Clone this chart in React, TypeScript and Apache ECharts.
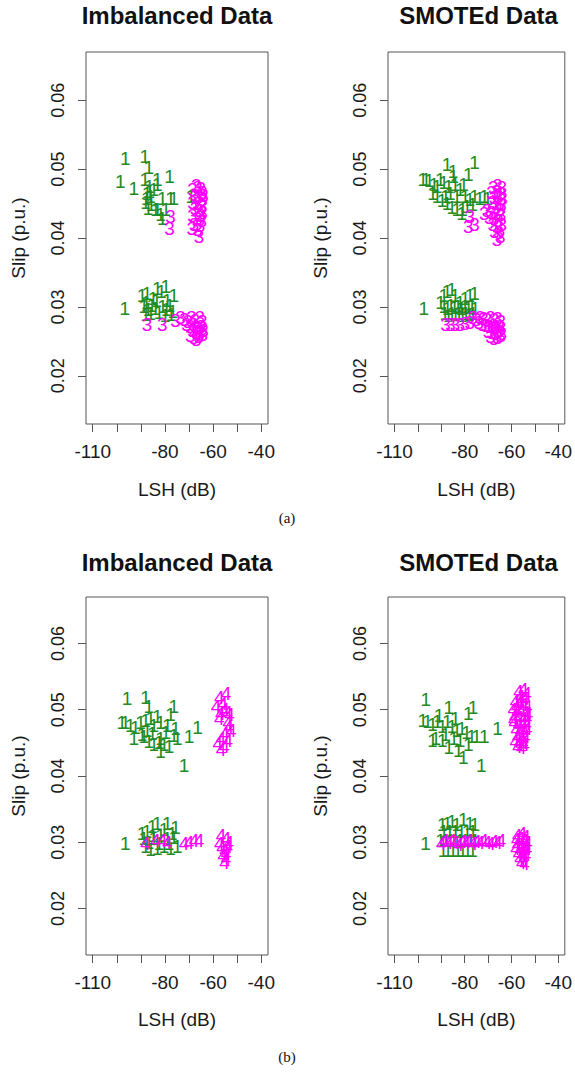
import React, { useEffect, useRef } from "react";
import * as echarts from "echarts";

// ---------- tick labels ----------
const X_TICKS = [-110, -100, -90, -80, -70, -60, -50, -40];
const X_LABELS = [-110, -80, -60, -40];
const Y_TICKS = [0.02, 0.03, 0.04, 0.05, 0.06];
const PANEL_TITLES = ["Imbalanced Data", "SMOTEd Data", "Imbalanced Data", "SMOTEd Data"];
const SUB_LABELS = ["(a)", "(b)"];

// ---------- (a) Imbalanced: class 1 (green) and class 3 (magenta) ----------
const aImbClass1: number[][] = [
  [-96.5, 0.0516], [-88.4, 0.0519], [-86.7, 0.0502], [-98.6, 0.0482], [-93.0, 0.0472],
  [-88.4, 0.0485], [-83.2, 0.0485], [-78.1, 0.0489], [-87.4, 0.0465], [-86.0, 0.046],
  [-88.1, 0.0451], [-84.6, 0.047], [-87.0, 0.0443], [-83.2, 0.0441], [-81.1, 0.0429],
  [-76.3, 0.0458], [-69.3, 0.046], [-79.7, 0.0441], [-86.5, 0.0475], [-85.8, 0.0448],
  [-87.8, 0.0457], [-86.3, 0.0468], [-83.2, 0.0477], [-81.1, 0.0458], [-83.9, 0.0441],
  [-81.8, 0.0434], [-77.7, 0.0458],
  [-96.7, 0.0298], [-89.5, 0.0317], [-87.4, 0.032], [-83.2, 0.0327], [-79.7, 0.0329],
  [-81.5, 0.0322], [-76.3, 0.0317], [-88.8, 0.03], [-87.0, 0.0296], [-85.5, 0.0302],
  [-84.0, 0.0298], [-82.5, 0.0292], [-81.0, 0.03], [-79.5, 0.0296], [-78.0, 0.0302],
  [-76.8, 0.0294], [-88.0, 0.0289], [-86.0, 0.029], [-80.0, 0.0288], [-77.5, 0.0289],
  [-83.5, 0.031], [-79.0, 0.031], [-85.0, 0.0312], [-87.8, 0.0306],
];
const aImbClass3: number[][] = [
  [-77.7, 0.0431], [-78.1, 0.0414], [-65.8, 0.0402], [-68.6, 0.047], [-66.5, 0.0474],
  [-65.1, 0.0472], [-64.4, 0.0466], [-67.2, 0.0462], [-65.8, 0.046], [-64.4, 0.0456],
  [-68.6, 0.0452], [-66.5, 0.045], [-64.7, 0.0447], [-67.5, 0.0443], [-65.8, 0.044],
  [-64.4, 0.0437], [-68.6, 0.0432], [-66.5, 0.0428], [-64.7, 0.0426], [-67.9, 0.042],
  [-65.4, 0.0418], [-66.5, 0.0412], [-68.9, 0.0414], [-65.1, 0.0433], [-67.0, 0.0476],
  [-64.0, 0.0462],
  [-87.4, 0.0274], [-81.1, 0.0274], [-75.6, 0.028], [-73.5, 0.0284], [-72.0, 0.0282],
  [-70.5, 0.0279], [-69.0, 0.0284], [-67.5, 0.028], [-65.5, 0.0284], [-64.5, 0.0279],
  [-71.0, 0.0275], [-69.5, 0.0272], [-68.0, 0.0274], [-66.5, 0.027], [-65.0, 0.0272],
  [-64.0, 0.0266], [-68.5, 0.0266], [-67.0, 0.0263], [-65.5, 0.0262], [-69.5, 0.0258],
  [-68.0, 0.0255], [-66.0, 0.0257], [-64.3, 0.026], [-67.0, 0.0252],
];

// ---------- (a) SMOTEd ----------
const aSmoClass1: number[][] = [
  [-97.9, 0.0485], [-96.5, 0.0485], [-95.2, 0.0483], [-87.6, 0.0506], [-75.8, 0.0509],
  [-78.5, 0.0492], [-84.8, 0.0489], [-88.9, 0.048], [-86.9, 0.0475], [-84.1, 0.0477],
  [-82.0, 0.047], [-93.8, 0.0465], [-91.8, 0.046], [-89.7, 0.0455], [-87.6, 0.045],
  [-85.5, 0.0445], [-83.4, 0.0441], [-81.3, 0.0436], [-79.9, 0.046], [-77.8, 0.0456],
  [-75.8, 0.046], [-73.7, 0.0458], [-71.6, 0.046], [-70.2, 0.0458], [-79.0, 0.0446],
  [-76.7, 0.0449], [-80.9, 0.0441], [-91.8, 0.0475], [-90.4, 0.0485], [-93.1, 0.0477],
  [-86.2, 0.0465], [-83.4, 0.046], [-88.2, 0.046], [-85.0, 0.0497], [-80.5, 0.0478],
  [-97.5, 0.0298], [-90.3, 0.0306], [-88.9, 0.0317], [-87.6, 0.0322], [-85.5, 0.0325],
  [-84.1, 0.0317], [-82.0, 0.0306], [-79.9, 0.0312], [-77.8, 0.0317], [-75.8, 0.032],
  [-89.0, 0.03], [-87.5, 0.0298], [-86.0, 0.0302], [-84.5, 0.0299], [-83.0, 0.0301],
  [-81.5, 0.0297], [-80.0, 0.0301], [-78.5, 0.0299], [-77.0, 0.0302], [-75.6, 0.0298],
  [-88.5, 0.029], [-87.0, 0.0288], [-85.5, 0.0291], [-84.0, 0.0289], [-82.5, 0.029],
  [-81.0, 0.0288], [-79.5, 0.0291], [-78.0, 0.0289], [-76.5, 0.029],
];
const aSmoClass3: number[][] = [
  [-77.8, 0.0431], [-75.8, 0.0419], [-78.5, 0.0417], [-71.6, 0.0436], [-70.5, 0.044],
  [-69.5, 0.043], [-67.8, 0.0474], [-66.0, 0.0476], [-64.2, 0.0473], [-68.5, 0.0466],
  [-66.5, 0.0468], [-64.5, 0.0465], [-67.5, 0.0459], [-65.5, 0.046], [-63.8, 0.0457],
  [-68.2, 0.0452], [-66.2, 0.045], [-64.3, 0.0449], [-67.0, 0.0444], [-65.0, 0.0442],
  [-68.5, 0.0437], [-66.5, 0.0435], [-64.5, 0.0434], [-67.5, 0.0428], [-65.5, 0.0426],
  [-68.0, 0.042], [-66.0, 0.0417], [-64.2, 0.042], [-67.3, 0.041], [-65.4, 0.0408],
  [-66.2, 0.0398], [-64.8, 0.0402],
  [-88.2, 0.0274], [-86.1, 0.0274], [-84.1, 0.0275], [-82.0, 0.0274], [-79.9, 0.0276],
  [-77.8, 0.0278], [-76.5, 0.0284], [-75.0, 0.0282], [-73.5, 0.0285], [-72.0, 0.0283],
  [-70.5, 0.0281], [-69.0, 0.0284], [-67.5, 0.0281], [-66.0, 0.0283], [-64.6, 0.0279],
  [-74.0, 0.0277], [-72.5, 0.0275], [-71.0, 0.0273], [-69.5, 0.0271], [-68.0, 0.0273],
  [-66.5, 0.027], [-65.0, 0.0272], [-70.0, 0.0265], [-68.5, 0.0263], [-67.0, 0.0262],
  [-65.5, 0.0264], [-64.2, 0.0262], [-69.0, 0.0257], [-67.5, 0.0254], [-66.0, 0.0256],
  [-64.6, 0.0258],
];

// ---------- (b) Imbalanced: class 1 (green) and class 4 (magenta) ----------
const bImbClass1: number[][] = [
  [-95.8, 0.0517], [-88.1, 0.0519], [-86.7, 0.0505], [-76.3, 0.0505], [-77.7, 0.0493],
  [-97.9, 0.0481], [-96.5, 0.0481], [-94.4, 0.0476], [-92.3, 0.0473], [-90.2, 0.0481],
  [-88.1, 0.0483], [-86.0, 0.0486], [-84.6, 0.0476], [-83.2, 0.049], [-81.8, 0.0481],
  [-79.0, 0.0476], [-75.6, 0.0471], [-93.0, 0.0457], [-88.8, 0.0459], [-86.7, 0.0452],
  [-84.6, 0.0447], [-81.8, 0.0437], [-78.3, 0.0444], [-76.3, 0.0461], [-74.9, 0.0457],
  [-70.0, 0.0459], [-66.5, 0.0473], [-72.1, 0.0416], [-81.8, 0.0457], [-79.7, 0.0466],
  [-85.3, 0.0464], [-87.4, 0.0468], [-89.5, 0.0462], [-82.5, 0.045], [-80.4, 0.0448],
  [-96.5, 0.0298], [-89.5, 0.0314], [-87.4, 0.0317], [-85.3, 0.0324], [-83.2, 0.0329],
  [-79.0, 0.0329], [-75.6, 0.0322], [-88.1, 0.0293], [-86.0, 0.0289], [-83.2, 0.0291],
  [-80.4, 0.0293], [-77.7, 0.0291], [-74.9, 0.0293], [-88.8, 0.0305], [-84.6, 0.0305],
  [-81.8, 0.031], [-79.0, 0.0305], [-76.3, 0.0307], [-86.7, 0.03], [-82.5, 0.0298],
  [-78.3, 0.0298], [-80.4, 0.0319], [-77.0, 0.0314], [-85.0, 0.031],
];
const bImbClass4: number[][] = [
  [-57.4, 0.0519], [-54.6, 0.0524], [-58.8, 0.0505], [-55.3, 0.05], [-53.2, 0.0493],
  [-57.4, 0.0486], [-53.9, 0.0481], [-52.5, 0.0469], [-55.3, 0.0464], [-56.7, 0.0457],
  [-58.1, 0.0449], [-55.3, 0.0445], [-56.7, 0.044], [-53.9, 0.0454], [-56.0, 0.051],
  [-54.0, 0.0496], [-57.0, 0.0495], [-53.5, 0.0475],
  [-88.1, 0.0298], [-83.9, 0.0302], [-81.1, 0.0302], [-79.0, 0.03], [-72.1, 0.0298],
  [-70.0, 0.03], [-67.9, 0.0302], [-65.8, 0.0302], [-56.7, 0.031], [-54.6, 0.0305],
  [-57.4, 0.0298], [-53.9, 0.0293], [-55.3, 0.0288], [-54.6, 0.0283], [-56.0, 0.028],
  [-55.3, 0.0269], [-54.6, 0.0276], [-53.5, 0.03], [-56.5, 0.0292],
];

// ---------- (b) SMOTEd ----------
const bSmoClass1: number[][] = [
  [-96.6, 0.0515], [-86.8, 0.0503], [-76.4, 0.0503], [-78.5, 0.0494], [-97.9, 0.0484],
  [-95.9, 0.0482], [-93.8, 0.0477], [-91.7, 0.0482], [-89.6, 0.0474], [-87.5, 0.0482],
  [-85.4, 0.0474], [-83.4, 0.0469], [-81.3, 0.0472], [-79.2, 0.0465], [-77.1, 0.046],
  [-75.0, 0.046], [-71.6, 0.046], [-66.0, 0.0472], [-72.9, 0.0416], [-80.6, 0.0428],
  [-82.7, 0.0438], [-86.8, 0.0443], [-89.6, 0.0453], [-92.4, 0.0457], [-93.8, 0.0453],
  [-88.2, 0.0462], [-84.7, 0.0457], [-82.0, 0.0453], [-78.5, 0.0448], [-84.0, 0.0486],
  [-91.0, 0.0491],
  [-96.8, 0.0298], [-89.6, 0.0327], [-87.5, 0.0329], [-85.4, 0.0331], [-83.4, 0.0327],
  [-80.6, 0.0334], [-77.8, 0.0329], [-75.7, 0.0327], [-90.3, 0.0302], [-88.2, 0.0302],
  [-86.1, 0.0302], [-84.0, 0.0302], [-81.9, 0.0302], [-79.8, 0.0302], [-77.7, 0.0302],
  [-75.6, 0.0302], [-89.3, 0.0288], [-87.2, 0.0288], [-85.1, 0.0288], [-83.0, 0.0288],
  [-80.9, 0.0288], [-78.8, 0.0288], [-76.7, 0.0288], [-89.0, 0.0317], [-86.5, 0.0317],
  [-84.0, 0.0317], [-81.5, 0.0317], [-79.0, 0.0317], [-76.5, 0.0317],
];
const bSmoClass4: number[][] = [
  [-57.0, 0.0528], [-55.0, 0.053], [-53.6, 0.0524], [-56.2, 0.052], [-54.3, 0.0517],
  [-58.5, 0.0512], [-56.8, 0.051], [-54.8, 0.0508], [-53.3, 0.0505], [-59.5, 0.05],
  [-57.7, 0.0498], [-55.8, 0.0499], [-54.0, 0.0496], [-58.8, 0.049], [-56.8, 0.0488],
  [-55.0, 0.0486], [-53.4, 0.0488], [-59.0, 0.048], [-57.2, 0.0478], [-55.4, 0.0477],
  [-53.6, 0.0479], [-58.2, 0.047], [-56.4, 0.0468], [-54.5, 0.0469], [-53.2, 0.0471],
  [-57.5, 0.046], [-55.7, 0.0458], [-54.0, 0.046], [-58.6, 0.0452], [-56.8, 0.045],
  [-55.0, 0.0451], [-57.4, 0.0445], [-55.8, 0.0443], [-54.4, 0.0447], [-59.2, 0.0485],
  [-53.0, 0.0495], [-56.0, 0.0515], [-58.0, 0.0505],
  [-90.0, 0.0298], [-88.5, 0.0302], [-87.0, 0.0299], [-85.5, 0.0303], [-84.0, 0.03],
  [-82.5, 0.0297], [-81.0, 0.0301], [-79.5, 0.0299], [-78.0, 0.0302], [-76.5, 0.0298],
  [-75.0, 0.0301], [-73.5, 0.0299], [-72.0, 0.0302], [-70.5, 0.03], [-69.0, 0.0298],
  [-67.5, 0.0301], [-66.0, 0.0299], [-64.5, 0.0302],
  [-57.5, 0.0311], [-55.5, 0.0313], [-54.0, 0.0309], [-58.0, 0.0304], [-56.2, 0.0305],
  [-54.5, 0.0303], [-53.3, 0.03], [-57.6, 0.0297], [-55.8, 0.0296], [-54.0, 0.0294],
  [-58.3, 0.029], [-56.5, 0.0289], [-54.6, 0.0288], [-53.4, 0.029], [-57.2, 0.0283],
  [-55.4, 0.0282], [-53.8, 0.0281], [-56.6, 0.0276], [-54.8, 0.0275], [-55.8, 0.027],
  [-54.4, 0.0268],
];

const GREEN = "#228B22";
const MAGENTA = "#FF00FF";
const FONT = '"Liberation Sans", Arial, sans-serif';

const panels = [
  { c1: aImbClass1, c2: aImbClass3, sym2: "3" },
  { c1: aSmoClass1, c2: aSmoClass3, sym2: "3" },
  { c1: bImbClass1, c2: bImbClass4, sym2: "4" },
  { c1: bSmoClass1, c2: bSmoClass4, sym2: "4" },
];

const gridBoxes = [
  { left: 86, top: 52, width: 182, height: 372 },
  { left: 388, top: 52, width: 181, height: 372 },
  { left: 86, top: 597, width: 182, height: 358 },
  { left: 388, top: 597, width: 181, height: 358 },
];

function textSeries(data: number[][], sym: string, color: string, idx: number) {
  return {
    type: "custom",
    coordinateSystem: "cartesian2d",
    xAxisIndex: idx,
    yAxisIndex: idx,
    encode: { x: 0, y: 1 },
    data,
    silent: true,
    renderItem: (_params: any, api: any) => {
      const p = api.coord([api.value(0), api.value(1)]);
      return {
        type: "text",
        x: p[0],
        y: p[1],
        style: {
          text: sym,
          fill: color,
          font: `19px ${FONT}`,
          align: "center",
          verticalAlign: "middle",
        },
      };
    },
  };
}

export default function App() {
  const ref = useRef<HTMLDivElement>(null);
  useEffect(() => {
    if (!ref.current) return;
    const chart = echarts.init(ref.current, undefined, { renderer: "svg" });
    const axisColor = "#555";
    const labelColor = "#1a1a1a";
    const option: any = {
      animation: false,
      backgroundColor: "#fff",
      grid: gridBoxes.map((g) => ({
        ...g,
        show: true,
        borderColor: axisColor,
        borderWidth: 1,
        backgroundColor: "transparent",
        containLabel: false,
      })),
      xAxis: gridBoxes.map((g, i) => ({
        type: "value",
        gridIndex: i,
        min: -112.8,
        max: -37.2,
        axisLine: { show: false },
        splitLine: { show: false },
        axisTick: {
          show: true,
          length: 8,
          customValues: X_TICKS,
          lineStyle: { color: axisColor, width: 1 },
        },
        axisLabel: {
          customValues: X_LABELS,
          margin: 18,
          fontSize: 19,
          fontFamily: FONT,
          color: labelColor,
          formatter: (v: number) => String(v),
        },
        name: "LSH (dB)",
        nameLocation: "middle",
        nameGap: i < 2 ? 56 : 55,
        nameTextStyle: { fontSize: 19, fontFamily: FONT, color: labelColor },
      })),
      yAxis: gridBoxes.map((g, i) => ({
        type: "value",
        gridIndex: i,
        min: 0.013,
        max: 0.067,
        axisLine: { show: false },
        splitLine: { show: false },
        axisTick: {
          show: true,
          length: 8,
          customValues: Y_TICKS,
          lineStyle: { color: axisColor, width: 1 },
        },
        axisLabel: {
          customValues: Y_TICKS,
          rotate: 90,
          margin: 19,
          fontSize: 18,
          fontFamily: FONT,
          color: labelColor,
          formatter: (v: number) => v.toFixed(2),
        },
        name: "Slip (p.u.)",
        nameLocation: "middle",
        nameRotate: 90,
        nameGap: 58,
        nameTextStyle: { fontSize: 19, fontFamily: FONT, color: labelColor },
      })),
      series: panels.flatMap((p, i) => [
        textSeries(p.c1, "1", GREEN, i),
        textSeries(p.c2, p.sym2, MAGENTA, i),
      ]),
      graphic: [
        ...PANEL_TITLES.map((t, i) => ({
          type: "text",
          x: gridBoxes[i].left + gridBoxes[i].width / 2,
          y: i < 2 ? 15 : 562,
          style: {
            text: t,
            font: `bold 24px ${FONT}`,
            fill: "#111",
            align: "center",
            verticalAlign: "middle",
          },
        })),
        ...SUB_LABELS.map((t, i) => ({
          type: "text",
          x: 287,
          y: i === 0 ? 518 : 1057,
          style: {
            text: t,
            font: `15px "Liberation Serif", "Times New Roman", serif`,
            fill: "#111",
            align: "center",
            verticalAlign: "middle",
          },
        })),
      ],
    };
    chart.setOption(option);
    return () => chart.dispose();
  }, []);
  return (
    <div
      ref={ref}
      style={{ position: "absolute", left: 0, top: 0, width: 575, height: 1073 }}
    />
  );
}
